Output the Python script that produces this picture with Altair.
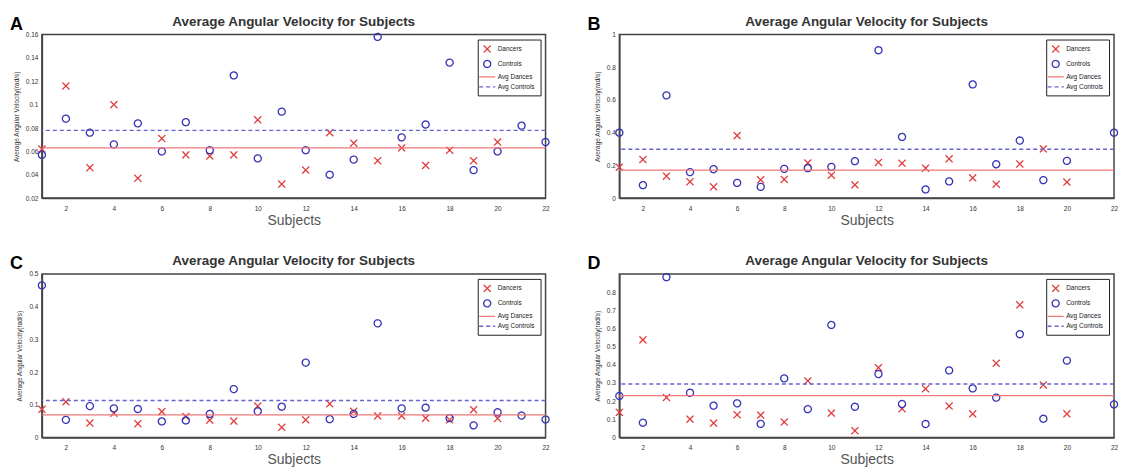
import altair as alt
import pandas as pd

subjects = list(range(1, 23))

# Panel A
a_dancers = [0.062, 0.116, 0.046, 0.100, 0.037, 0.071, 0.057, 0.056, 0.057, 0.087,
             0.032, 0.044, 0.076, 0.067, 0.052, 0.063, 0.048, 0.061, 0.052, 0.068]
a_controls = [0.057, 0.088, 0.076, 0.066, 0.084, 0.060, 0.085, 0.061, 0.125, 0.054, 0.094,
              0.061, 0.040, 0.053, 0.158, 0.072, 0.083, 0.136, 0.044, 0.060, 0.082, 0.068]
a_avg = [0.063, 0.078]

# Panel B
b_dancers = [0.189, 0.236, 0.134, 0.100, 0.069, 0.382, 0.112, 0.114, 0.215, 0.140,
             0.081, 0.218, 0.213, 0.183, 0.240, 0.124, 0.085, 0.209, 0.301, 0.098]
b_controls = [0.400, 0.079, 0.628, 0.159, 0.177, 0.093, 0.069, 0.179, 0.183, 0.191, 0.226,
              0.904, 0.374, 0.053, 0.102, 0.695, 0.207, 0.352, 0.110, 0.228, None, 0.400]
b_avg = [0.171, 0.299]

# Panel C
c_dancers = [0.086, 0.109, 0.044, 0.074, 0.042, 0.079, 0.064, 0.053, 0.050, 0.096,
             0.031, 0.054, 0.103, 0.080, 0.066, 0.066, 0.059, 0.054, 0.085, 0.058]
c_controls = [0.465, 0.054, 0.096, 0.089, 0.087, 0.049, 0.052, 0.072, 0.148, 0.080, 0.094,
              0.229, 0.056, 0.072, 0.349, 0.089, 0.091, 0.059, 0.037, 0.077, 0.067, 0.055]
c_avg = [0.069, 0.113]

# Panel D
d_dancers = [0.138, 0.537, 0.220, 0.101, 0.079, 0.125, 0.123, 0.085, 0.311, 0.134,
             0.037, 0.384, 0.158, 0.268, 0.173, 0.130, 0.408, 0.730, 0.289, 0.130]
d_controls = [0.228, 0.081, 0.882, 0.246, 0.175, 0.188, 0.075, 0.325, 0.156, 0.619, 0.169,
              0.349, 0.184, 0.074, 0.369, 0.270, 0.219, 0.568, 0.103, 0.423, None, 0.182]
d_avg = [0.230, 0.294]

x_ticks = [2, 4, 6, 8, 10, 12, 14, 16, 18, 20, 22]
a_yticks = [0.02, 0.04, 0.06, 0.08, 0.10, 0.12, 0.14, 0.16]
b_yticks = [0, 0.2, 0.4, 0.6, 0.8, 1.0]
c_yticks = [0, 0.1, 0.2, 0.3, 0.4, 0.5]
d_yticks = [0, 0.1, 0.2, 0.3, 0.4, 0.5, 0.6, 0.7, 0.8]

series = ["Dancers", "Controls", "Avg Dances", "Avg Controls"]
colors = ["#e03c3c", "#3434b4", "#f07878", "#6464d2"]
X_PATH = "M-1,-1L1,1M1,-1L-1,1"
shapes = [X_PATH, "circle", "stroke", "stroke"]
dashes = [[1, 0], [1, 0], [1, 0], [4, 3]]

FONT = "Liberation Sans"
TITLE = "Average Angular Velocity for Subjects"
FRAME = "#444"

LEGEND_SYMBOL_SIZE = ("indexof(['Avg Dances', 'Avg Controls'], datum.value) >= 0 ? 260 : 50")


def panel(letter, dancers, controls, avgs, ydom, yticks, w, h):
    rows = []
    for s, v in zip(subjects, dancers):
        rows.append({"subject": s, "value": v, "series": "Dancers"})
    for s, v in zip(subjects, controls):
        if v is not None:
            rows.append({"subject": s, "value": v, "series": "Controls"})
    pts = pd.DataFrame(rows)
    avg = pd.DataFrame({"series": ["Avg Dances", "Avg Controls"], "value": avgs})

    xs = alt.X("subject:Q", scale=alt.Scale(domain=[1, 22], nice=False, zero=False),
               axis=alt.Axis(values=x_ticks, title="Subjects", grid=False, domain=True,
                             domainColor=FRAME, domainWidth=1.5,
                             ticks=False, labelFontSize=6.5, labelColor="#333",
                             labelPadding=7, labelFlush=False, labelOverlap=False,
                             titleFontSize=14, titleColor="#555",
                             titleFontWeight="normal", titlePadding=2,
                             labelFont=FONT, titleFont=FONT))
    yax = alt.Axis(values=yticks, format="~g", title="Average Angular Velocity(rad/s)",
                   grid=False, domain=True, domainColor=FRAME, domainWidth=1.5,
                   ticks=False, labelFontSize=6.5,
                   labelColor="#333", labelPadding=4, labelFlush=False, labelOverlap=False,
                   labelSeparation=0,
                   titleFontSize=6.5, titleColor="#333", titleFontWeight="normal",
                   titlePadding=6, labelFont=FONT, titleFont=FONT)
    ys = alt.Y("value:Q", scale=alt.Scale(domain=ydom, nice=False, zero=False), axis=yax)

    leg = alt.Legend(title=None, orient="top-right", offset=5, labelFontSize=6.5,
                     labelFont=FONT, labelColor="#222", strokeColor="#222",
                     fillColor="white", padding=5, rowPadding=2, labelOffset=6,
                     symbolStrokeWidth=1.3, cornerRadius=0,
                     symbolSize=alt.ExprRef(expr=LEGEND_SYMBOL_SIZE))
    color = alt.Color("series:N", scale=alt.Scale(domain=series, range=colors), legend=leg)
    shape = alt.Shape("series:N", scale=alt.Scale(domain=series, range=shapes), legend=leg)
    dash = alt.StrokeDash("series:N", scale=alt.Scale(domain=series, range=dashes), legend=leg)

    rules = alt.Chart(avg).mark_rule(strokeWidth=1.4).encode(y=ys, color=color,
                                                             strokeDash=dash)
    points = alt.Chart(pts).mark_point(filled=False, strokeWidth=1.3, opacity=1,
                                       size=50).encode(
        x=xs, y=ys, color=color, shape=shape, strokeDash=dash)
    lab = alt.Chart(pd.DataFrame({"t": [letter]})).mark_text(
        fontSize=18, fontWeight="bold", font=FONT, align="left", baseline="alphabetic",
        color="black").encode(x=alt.value(-32), y=alt.value(-5), text="t:N")

    return alt.layer(points, rules, lab).properties(
        width=w, height=h,
        title=alt.TitleParams(TITLE, fontSize=13.5, fontWeight="bold", font=FONT,
                              color="#333", offset=5, dy=18, anchor="middle"))


A = panel("A", a_dancers, a_controls, a_avg, [0.02, 0.16], a_yticks, 505, 164)
B = panel("B", b_dancers, b_controls, b_avg, [0, 1], b_yticks, 496, 164)
C = panel("C", c_dancers, c_controls, c_avg, [0, 0.5], c_yticks, 505, 164)
D = panel("D", d_dancers, d_controls, d_avg, [0, 0.9], d_yticks, 496, 164)

chart = alt.concat(A, B, C, D, columns=2, spacing=alt.RowColnumber(row=76, column=74),
                   bounds="flush").resolve_scale(
    x="independent", y="independent", color="independent", shape="independent",
    strokeDash="independent"
).resolve_legend(
    color="independent", shape="independent", strokeDash="independent"
).properties(
    padding={"left": 1, "top": 5, "right": 0, "bottom": 2}, background="white"
).configure_view(stroke=FRAME, strokeWidth=1.5)

chart.save("out.html", embed_options={"renderer": "svg", "actions": False})
